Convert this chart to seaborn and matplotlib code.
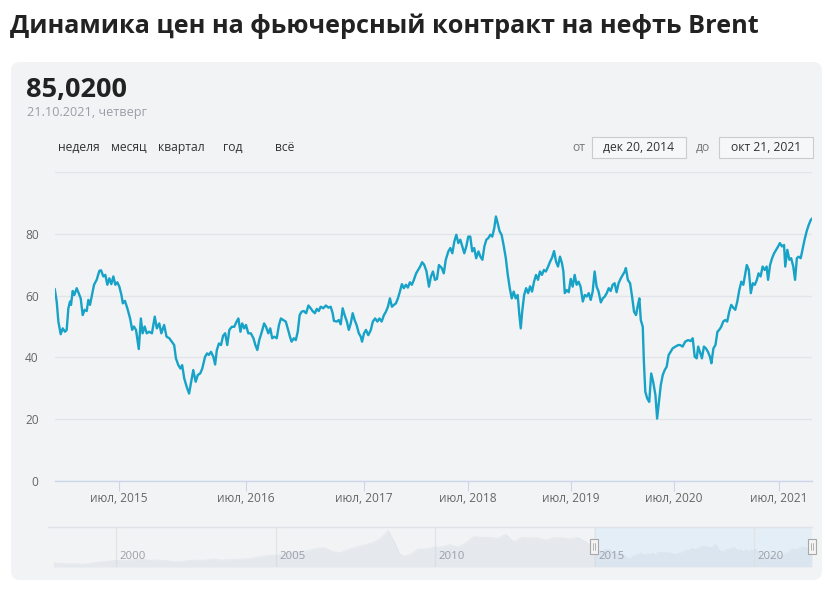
import numpy as np
import pandas as pd
import matplotlib
matplotlib.use("Agg")
import matplotlib.pyplot as plt
import matplotlib.dates as mdates
from matplotlib.patches import FancyBboxPatch, Rectangle
import seaborn as sns

sns.set_theme(style="white")
plt.rcParams["font.family"] = ["Open Sans", "DejaVu Sans"]

# ---------------- texts ----------------
TITLE = "Динамика цен на фьючерсный контракт на нефть Brent"
LAST_PRICE = "85,0200"
LAST_DATE = "21.10.2021, четверг"
PERIOD_BUTTONS = ["неделя", "месяц", "квартал", "год", "всё"]
RANGE_FROM_LABEL, RANGE_FROM = "от", "дек 20, 2014"
RANGE_TO_LABEL, RANGE_TO = "до", "окт 21, 2021"

# ---------------- main series (days since start, price) ----------------
start_date = "2014-12-20"
day_offsets = [
    0, 6, 11, 18, 24, 31, 36, 41, 46, 49, 54, 59, 66, 72, 78, 84, 90, 96, 101, 106,
    111, 118, 126, 134, 139, 146, 152, 158, 164, 170, 176, 182, 188, 194, 200, 204, 210, 217, 225, 231,
    236, 242, 250, 256, 261, 267, 273, 280, 288, 296, 302, 309, 315, 323, 330, 338, 345, 352,
    357, 364, 370, 375, 381, 388, 395, 401, 407, 414, 420, 427, 433, 441, 447, 452, 458, 465, 470, 475,
    481, 487, 493, 499, 505, 511, 518, 525, 532, 537, 543, 548, 554, 559, 566, 574, 582, 588, 594, 600,
    608, 615, 621, 628, 634, 640, 647, 654, 661, 667, 674, 682, 688, 695, 700, 707, 713, 719, 725, 731,
    738, 745, 752, 759, 765, 772, 778, 784, 790, 798, 806, 814, 821, 827, 831, 840, 846, 852, 858, 864,
    871, 877, 883, 889, 895, 901, 908, 914, 918, 924, 931, 939, 948, 955, 963, 971, 978, 986, 994, 1001,
    1008, 1015, 1022, 1029, 1036, 1043, 1050, 1057, 1064, 1071, 1078, 1085, 1092, 1099, 1107, 1114, 1121, 1128, 1135,
    1143, 1152, 1159, 1166, 1173, 1180, 1187, 1197, 1204, 1211, 1220, 1227, 1234, 1241, 1248, 1255, 1262, 1269, 1276, 1283,
    1290, 1297, 1304, 1311, 1318, 1326, 1333, 1340, 1347, 1354, 1361, 1368, 1375, 1382, 1388, 1394, 1401, 1408, 1416, 1423,
    1430, 1437, 1444, 1451, 1458, 1465, 1471, 1476, 1481, 1488, 1495, 1502, 1509, 1516, 1523, 1530, 1537, 1544, 1551, 1558,
    1565, 1573, 1580, 1587, 1594, 1601, 1608, 1615, 1622, 1627, 1632, 1639, 1646, 1653,
    1660, 1667, 1674, 1681, 1688, 1696, 1703, 1710, 1717, 1724, 1731, 1738, 1745, 1752, 1760, 1767, 1774, 1781, 1788, 1795,
    1802, 1809, 1816, 1823, 1831, 1838, 1845, 1849, 1856, 1864, 1871, 1878, 1885, 1892, 1897, 1902, 1909, 1913, 1918, 1925,
    1932, 1939, 1946, 1954, 1960, 1966, 1973, 1980, 1987, 1994, 2001, 2008, 2015,
    2025, 2035, 2041, 2050, 2059, 2069, 2078, 2085, 2092, 2099, 2104, 2110, 2117, 2124, 2131, 2138, 2145, 2150, 2157, 2164,
    2171, 2177, 2184, 2191, 2198, 2205, 2212, 2219, 2226, 2233, 2240, 2247, 2254, 2261, 2268, 2273, 2280, 2287, 2294, 2301,
    2308, 2314, 2321, 2328, 2335, 2342, 2347, 2354, 2361, 2368, 2375, 2382, 2388, 2395, 2402, 2406, 2413, 2420, 2426, 2433,
    2439, 2445, 2451, 2458, 2465, 2471, 2478, 2485, 2492, 2497,
]
prices = [
    62.2, 58.1, 51.6, 47.5, 49.4, 48.3, 48.9, 55.9, 58.1, 57.0, 61.5, 60.2, 62.4, 60.8, 59.1, 53.7, 55.4, 55.0, 58.6, 57.0,
    59.7, 63.5, 65.1, 68.0, 68.2, 66.2, 66.7, 63.5, 65.6, 63.7, 66.2, 63.5, 64.3, 62.9, 60.2, 57.5, 58.3, 55.9, 52.6, 48.9,
    50.0, 48.9, 42.7, 52.6, 47.8, 50.0, 47.8, 48.3, 47.8, 53.2, 49.4, 51.0, 47.8, 50.5, 46.7, 46.2, 45.1, 44.0,
    39.7, 37.5, 36.4, 37.5, 33.2, 30.5, 28.3, 32.1, 35.9, 32.1, 34.3, 34.8, 36.4, 40.2, 41.3, 40.8, 41.8, 40.2, 37.7, 42.4,
    44.5, 44.0, 47.0, 47.8, 44.0, 48.9, 49.9, 49.9, 51.6, 52.6, 48.3, 51.0, 49.4, 50.5, 47.8, 47.8, 46.2, 44.0, 42.4, 45.6,
    48.3, 51.0, 49.9, 47.8, 49.4, 46.2, 46.7, 46.2, 50.5, 52.6, 52.1, 51.6, 49.4, 46.7, 45.1, 46.2, 45.6, 48.3, 53.7, 54.8,
    55.0, 54.3, 56.8, 55.9, 55.0, 54.3, 55.7, 55.0, 56.4, 55.9, 56.8, 56.1, 56.4, 54.3, 51.8, 51.6, 52.1, 50.7, 55.9, 53.7,
    51.6, 48.9, 51.0, 54.3, 52.1, 50.5, 47.8, 46.7, 45.1, 47.8, 48.9, 47.2, 48.9, 51.6, 52.6, 51.6, 52.6, 51.6, 53.7, 54.8,
    56.4, 59.1, 56.4, 57.0, 57.5, 59.1, 61.3, 63.7, 62.4, 63.5, 62.6, 64.3, 63.5, 65.1, 67.2, 68.3, 69.4, 70.8, 70.0,
    68.0, 62.9, 66.2, 67.8, 65.1, 65.4, 69.9, 68.9, 67.2, 71.6, 74.3, 75.4, 73.7, 77.5, 79.7, 77.0, 78.1, 75.9, 73.7, 75.9,
    79.1, 79.1, 74.3, 75.4, 72.1, 74.3, 72.6, 71.6, 75.9, 78.1, 78.6, 79.7, 79.1, 81.8, 85.6, 83.5, 80.8, 79.7, 75.9, 72.1,
    66.7, 62.4, 59.1, 61.3, 59.1, 60.2, 53.7, 49.4, 54.8, 60.2, 62.4, 60.8, 63.0, 61.3, 64.5, 66.7, 65.1, 67.8, 66.7, 68.3,
    67.8, 69.4, 71.0, 72.3, 74.4, 71.0, 69.4, 72.6, 70.5, 67.8, 60.8, 61.8, 61.1, 65.4,
    62.9, 66.7, 63.5, 64.5, 62.9, 58.1, 60.2, 59.7, 60.8, 58.6, 61.3, 67.8, 62.9, 61.3, 57.8, 59.1, 59.7, 60.8, 62.4, 61.5,
    63.5, 64.0, 61.1, 64.0, 65.6, 66.7, 67.8, 68.9, 65.1, 64.0, 59.7, 54.8, 53.7, 57.0, 59.1, 52.1, 49.9, 38.6, 28.9, 26.7,
    25.6, 34.8, 32.1, 27.8, 20.2, 25.1, 31.0, 34.3, 35.9, 37.0, 40.8, 41.8, 42.9,
    43.5, 44.0, 44.0, 43.5, 45.1, 45.6, 45.3, 46.2, 40.2, 39.7, 43.5, 41.8, 39.7, 43.5, 42.9, 41.8, 40.2, 38.1, 42.9, 44.0,
    48.3, 48.9, 49.9, 51.6, 52.1, 51.6, 54.8, 57.0, 56.1, 55.4, 58.1, 61.8, 64.5, 63.5, 67.2, 69.9, 68.3, 60.8, 64.0, 63.5,
    65.1, 67.2, 66.2, 69.4, 68.3, 69.4, 65.1, 69.9, 72.1, 73.7, 74.8, 75.9, 77.0, 75.9, 76.4, 69.4, 74.8, 71.6, 72.1, 69.4,
    65.1, 72.1, 72.6, 72.1, 75.4, 78.1, 80.8, 82.9, 84.5, 85.02,
]

# ---------------- axis definitions ----------------
y_ticks = [0, 20, 40, 60, 80, 100]
y_tick_labels = ["0", "20", "40", "60", "80", ""]
x_tick_dates = ["2015-07-01", "2016-07-01", "2017-07-01", "2018-07-01",
                "2019-07-01", "2020-07-01", "2021-07-01"]
x_tick_labels = ["июл, 2015", "июл, 2016", "июл, 2017", "июл, 2018",
                 "июл, 2019", "июл, 2020", "июл, 2021"]
# ordinal (session-based) axis: relative position of anchor dates
ordinal_dates = ["2014-12-20"] + x_tick_dates + ["2021-10-21"]
ordinal_units = [0.0, 64.3, 191.3, 309.3, 413.3, 516.3, 619.3, 724.3, 757.6]

# ---------------- navigator history ----------------
hist_dates = [
    "1998-01-15", "1998-04-15", "1998-07-15", "1998-10-15", "1998-12-15",
    "1999-04-15", "1999-07-15", "1999-10-15",
    "2000-01-15", "2000-04-15", "2000-07-15", "2000-10-15",
    "2001-01-15", "2001-04-15", "2001-07-15", "2001-10-15",
    "2002-01-15", "2002-04-15", "2002-07-15", "2002-10-15",
    "2003-01-15", "2003-04-15", "2003-07-15", "2003-10-15",
    "2004-01-15", "2004-04-15", "2004-07-15", "2004-10-15",
    "2005-01-15", "2005-04-15", "2005-07-15", "2005-10-15",
    "2006-01-15", "2006-04-15", "2006-07-15", "2006-10-15",
    "2007-01-15", "2007-04-15", "2007-07-15", "2007-10-15",
    "2008-01-15", "2008-04-15", "2008-07-10", "2008-09-15", "2008-11-15", "2008-12-20",
    "2009-03-15", "2009-06-15", "2009-09-15", "2009-12-15",
    "2010-03-15", "2010-06-15", "2010-09-15", "2010-12-15",
    "2011-03-15", "2011-06-15", "2011-09-15", "2011-12-15",
    "2012-03-15", "2012-06-15", "2012-09-15", "2012-12-15",
    "2013-03-15", "2013-06-15", "2013-09-15", "2013-12-15",
    "2014-03-15", "2014-06-15", "2014-09-15", "2014-11-15",
]
hist_prices = [
    15.5, 13.5, 12.5, 12.5, 10.0,
    15.5, 20.0, 22.5,
    26, 24, 29, 31,
    25, 27, 25, 20,
    20, 25, 26, 26,
    31, 26, 28, 29,
    31, 34, 39, 45,
    44, 53, 58, 59,
    63, 71, 73, 58,
    54, 67, 76, 83,
    92, 108, 138, 100, 52, 42,
    46, 68, 68, 75,
    76, 85, 75, 91,
    115, 112, 112, 108,
    124, 95, 112, 110,
    110, 102, 111, 110,
    107, 112, 97, 78,
]
nav_years = ["2000", "2005", "2010", "2015", "2020"]

# ---------------- styling ----------------
W, H = 825, 591
CARD = "#f2f3f5"
LINE = "#17a2c7"
GRID = "#e1e4e8"
AXIS = "#ccd6eb"
LABEL = "#666666"


def fx(px):
    return px / W


def fy(py):
    return 1 - py / H


fig = plt.figure(figsize=(W / 100, H / 100), dpi=100, facecolor="white")

card = FancyBboxPatch((11, H - 580), 811, 518,
                      boxstyle="round,pad=0,rounding_size=9",
                      transform=None, facecolor=CARD, edgecolor="none", zorder=-10)
fig.add_artist(card)

# header texts
fig.text(fx(10), fy(33), TITLE, fontsize=18.2, fontweight="bold", color="#222222",
         ha="left", va="baseline")
fig.text(fx(26), fy(96.5), LAST_PRICE, fontsize=19.5, fontweight="bold", color="#222222",
         ha="left", va="baseline")
fig.text(fx(27), fy(116.5), LAST_DATE, fontsize=9.1, color="#9a9ea6",
         ha="left", va="baseline")
for label, px in zip(PERIOD_BUTTONS, [57.5, 111.3, 158.3, 222.7, 275.3]):
    fig.text(fx(px), fy(151.2), label, fontsize=8.7, color="#333333", ha="left", va="baseline")

fig.text(fx(572.5), fy(151.2), RANGE_FROM_LABEL, fontsize=8.7, color="#777777", ha="left", va="baseline")
fig.text(fx(695.7), fy(151.2), RANGE_TO_LABEL, fontsize=8.7, color="#777777", ha="left", va="baseline")
for (x0, x1), txt in zip([(591.7, 685.7), (719.3, 813.3)], [RANGE_FROM, RANGE_TO]):
    fig.add_artist(Rectangle((x0, H - 158.3), x1 - x0, 21, transform=None,
                             facecolor="#f6f7f8", edgecolor="#cccccc", linewidth=0.8))
    fig.text(fx((x0 + x1) / 2), fy(151.2), txt, fontsize=8.7, color="#333333",
             ha="center", va="baseline")

# ---------------- main chart ----------------
dates = pd.Timestamp(start_date) + pd.to_timedelta(day_offsets, unit="D")
df = pd.DataFrame({"date": dates, "price": prices})

ax = fig.add_axes([fx(54.7), fy(481), fx(812.3) - fx(54.7), fy(172) - fy(481)])
ax.set_facecolor("none")
sns.lineplot(data=df, x="date", y="price", ax=ax, color=LINE, linewidth=1.7, zorder=3)

anchor_x = mdates.date2num(pd.to_datetime(ordinal_dates))
anchor_u = np.array(ordinal_units)


def fwd(v):
    return np.interp(v, anchor_x, anchor_u)


def inv(u):
    return np.interp(u, anchor_u, anchor_x)


ax.set_xscale("function", functions=(fwd, inv))
ax.set_xlim(anchor_x[0], anchor_x[-1])
ax.set_ylim(0, 100)
ax.set_xticks(mdates.date2num(pd.to_datetime(x_tick_dates)))
ax.set_xticklabels(x_tick_labels)
ax.set_yticks(y_ticks)
ax.set_yticklabels(y_tick_labels)
ax.set_xlabel("")
ax.set_ylabel("")
ax.yaxis.grid(True, color=GRID, linewidth=1.0)
ax.xaxis.grid(False)
for s in ["top", "right", "left"]:
    ax.spines[s].set_visible(False)
ax.spines["bottom"].set_color(AXIS)
ax.spines["bottom"].set_linewidth(1.0)
ax.spines["bottom"].set_zorder(4)
ax.tick_params(axis="x", which="major", length=7.2, width=0.8, color=AXIS,
               labelsize=8.6, labelcolor=LABEL, pad=1.0, direction="out", bottom=True)
ax.tick_params(axis="y", which="major", length=0, labelsize=8.6, labelcolor=LABEL, pad=11.5)
ax.set_axisbelow(True)

# ---------------- navigator ----------------
hist = pd.DataFrame({"date": pd.to_datetime(hist_dates), "price": hist_prices})
nav_df = pd.concat([hist, df], ignore_index=True)

axn = fig.add_axes([fx(48), fy(567), fx(812) - fx(48), fy(527) - fy(567)])
axn.set_facecolor("none")
sel0, sel1 = pd.Timestamp(start_date), dates[-1]
axn.axvspan(sel0, sel1, color="#e4eef6", zorder=0, linewidth=0)
axn.fill_between(nav_df["date"], 0, nav_df["price"], color="#c9d3e0", alpha=0.3,
                 linewidth=0, zorder=1)
sns.lineplot(data=nav_df, x="date", y="price", ax=axn, color="#c9d3e0", alpha=0.35,
             linewidth=0.5, zorder=2)
axn.set_xlim(pd.Timestamp("1997-11-15"), pd.Timestamp("2021-10-21"))
axn.set_ylim(0, 151)
axn.set_xlabel("")
axn.set_ylabel("")
axn.set_xticks([])
axn.set_yticks([])
for s in ["right", "left", "bottom"]:
    axn.spines[s].set_visible(False)
axn.spines["top"].set_color("#dfe2e6")
axn.spines["top"].set_linewidth(1.0)
for yr in nav_years:
    d = pd.Timestamp(f"{yr}-01-01")
    axn.axvline(d, color="#e2e4e8", linewidth=1.0, zorder=0.5)
    axn.annotate(yr, xy=(d, 0.0), xycoords=("data", "axes fraction"),
                 xytext=(2.5, 3.5), textcoords="offset points",
                 fontsize=8.2, color="#9a9ea6", ha="left", va="bottom")

# handles
xtr = axn.get_xaxis_transform()
for d in [sel0, sel1]:
    dn = mdates.date2num(d)
    axn.add_patch(Rectangle((dn - 45, 0.33), 90, 0.36, transform=xtr,
                            facecolor="#f4f4f4", edgecolor="#a8a8a8",
                            linewidth=0.8, zorder=5, clip_on=False))
    for off in (-12, 12):
        axn.plot([dn + off, dn + off], [0.43, 0.59], transform=xtr,
                 color="#a8a8a8", linewidth=0.6, zorder=6, clip_on=False)

fig.savefig("out.png", dpi=100, facecolor="white")
